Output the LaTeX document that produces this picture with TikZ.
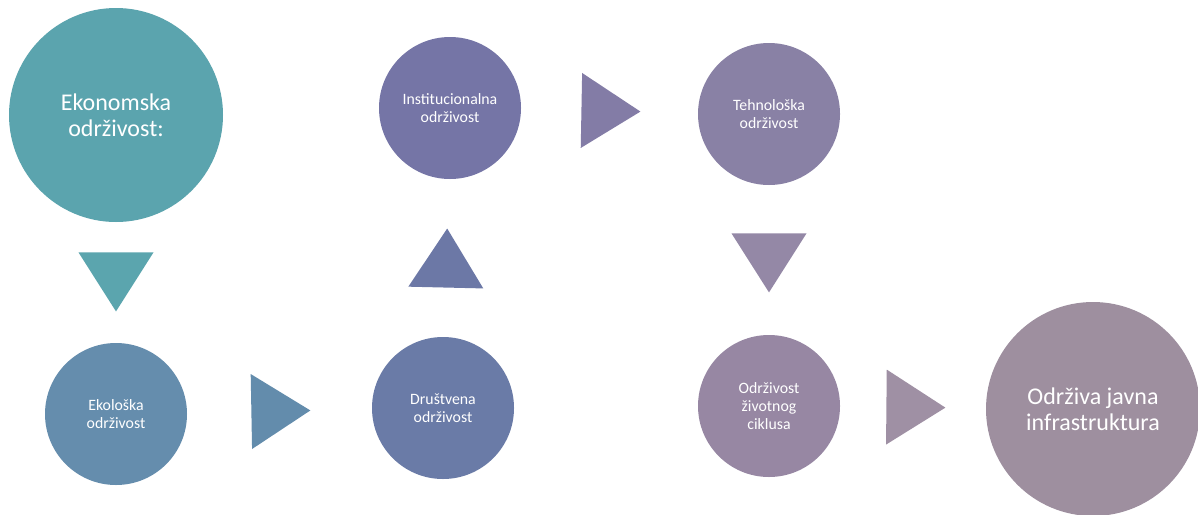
\documentclass[tikz,border=0pt]{standalone}
\usepackage{fontspec}
\setmainfont{Carlito}
\usetikzlibrary{shapes.geometric}
\definecolor{ekoteal}{RGB}{91,164,174}
\definecolor{ekolblue}{RGB}{101,141,173}
\definecolor{drusblue}{RGB}{106,123,167}
\definecolor{instpurple}{RGB}{117,117,166}
\definecolor{tehpurple}{RGB}{137,129,165}
\definecolor{ciklusmauve}{RGB}{151,135,163}
\definecolor{infragray}{RGB}{158,143,159}
\definecolor{arrowteal}{RGB}{91,165,174}
\definecolor{arrowblue}{RGB}{99,140,172}
\definecolor{arrowslate}{RGB}{108,120,166}
\definecolor{arrowviolet}{RGB}{131,124,166}
\definecolor{arrowlilac}{RGB}{148,136,166}
\definecolor{arrowmauve}{RGB}{159,144,164}
\tikzstyle{bigcircle} = [circle, text=white, minimum size=214pt, inner sep=0pt,
    align=center, font=\fontsize{24}{26}\selectfont]
\tikzstyle{smallcircle} = [circle, text=white, minimum size=142pt, inner sep=0pt,
    align=center, font=\fontsize{15.8}{18}\selectfont]
\tikzstyle{arrowtri} = [isosceles triangle, isosceles triangle stretches,
    minimum width=75pt, minimum height=59pt, inner sep=0pt, anchor=apex, sloped]

\begin{document}
\begin{tikzpicture}[x=1pt, y=-1pt]
  \useasboundingbox (0,0) rectangle (1198,514);
  \fill [white] (0,0) rectangle (1198,514);
  \node [bigcircle, fill=ekoteal] (eko) at (116,115) {Ekonomska\\održivost:};
  \node [smallcircle, fill=ekolblue, below of=eko, node distance=299pt] (ekol) {Ekološka\\održivost};
  \node [smallcircle, fill=drusblue, right of=ekol, node distance=327pt, yshift=6pt] (drus) {Društvena\\održivost};
  \node [smallcircle, fill=instpurple, above of=drus, node distance=300pt, xshift=7pt] (inst) {Institucionalna\\održivost};
  \node [smallcircle, fill=tehpurple, right of=inst, node distance=319pt, yshift=-6pt] (teh) {Tehnološka\\održivost};
  \node [smallcircle, fill=ciklusmauve, below of=teh, node distance=292pt] (ciklus) {Održivost\\životnog\\ciklusa};
  \node [bigcircle, fill=infragray, right of=ciklus, node distance=324pt, yshift=-3pt] (infra) {Održiva javna\\infrastruktura};
  \path (eko) -- node [arrowtri, fill=arrowteal, pos=0.744] {} (ekol);
  \path (ekol) -- node [arrowtri, fill=arrowblue, pos=0.67] {} (drus);
  \path (drus) -- node [arrowtri, fill=arrowslate, pos=0.69] {} (inst);
  \path (inst) -- node [arrowtri, fill=arrowviolet, pos=0.678] {} (teh);
  \path (teh) -- node [arrowtri, fill=arrowlilac, pos=0.72] {} (ciklus);
  \path (ciklus) -- node [arrowtri, fill=arrowmauve, pos=0.726] {} (infra);
\end{tikzpicture}
\end{document}
